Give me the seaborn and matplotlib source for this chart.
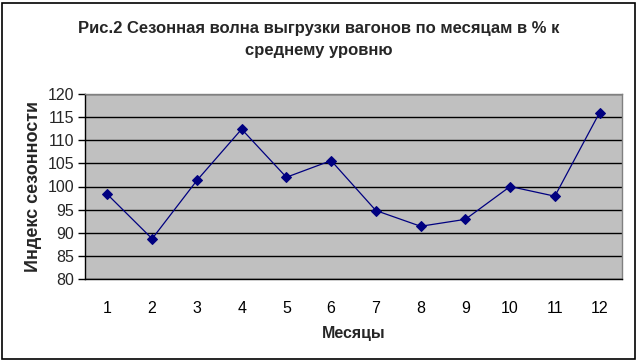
import matplotlib
matplotlib.use("Agg")
import matplotlib.pyplot as plt
import seaborn as sns
import pandas as pd
import numpy as np
from matplotlib.patches import Rectangle

months = [1, 2, 3, 4, 5, 6, 7, 8, 9, 10, 11, 12]
index_values = [98.3, 88.7, 101.3, 112.4, 102.0, 105.6, 94.8, 91.4, 92.9, 100.0, 97.9, 116.0]
title = "Рис.2 Сезонная волна выгрузки вагонов по месяцам в % к\nсреднему уровню"
xlabel = "Месяцы"
ylabel = "Индекс сезонности"

df = pd.DataFrame({"month": months, "value": index_values})

sns.set_theme(style="white")
plt.rcParams["font.family"] = ["Liberation Sans", "DejaVu Sans"]

fig = plt.figure(figsize=(6.38, 3.61), dpi=100)
ax = fig.add_axes([85/638, 1-279/361, (622-85)/638, (279-94)/361])
ax.set_facecolor("#C0C0C0")

sns.lineplot(data=df, x="month", y="value", ax=ax, color="#000080", linewidth=0.9,
             marker="D", markersize=5, markeredgecolor="#000080", markerfacecolor="#000080")

ax.set_xlim(0.5, 12.5)
ax.set_ylim(80, 120)
ax.set_yticks(np.arange(80, 121, 5))
ax.yaxis.grid(True, color="black", linewidth=1.0)
ax.set_axisbelow(True)
ax.set_xticks(months)
ax.set_xticklabels([str(m) for m in months])
ax.set_xticks(np.arange(0.5, 12.6, 1), minor=True)
ax.tick_params(axis="x", which="major", length=0, pad=16, labelsize=11.5, colors="black")
ax.tick_params(axis="x", which="minor", length=5, width=1, color="black", direction="out")
ax.tick_params(axis="y", which="major", length=5, width=1, color="black", direction="out", pad=3, labelsize=11.5, left=True)

for side in ["top", "right"]:
    ax.spines[side].set_color("#808080")
    ax.spines[side].set_linewidth(1)
for side in ["left", "bottom"]:
    ax.spines[side].set_color("black")
    ax.spines[side].set_linewidth(1)

ax.set_xlabel(xlabel, fontsize=11.5, fontweight="bold", labelpad=7)
ax.set_ylabel(ylabel, fontsize=13, fontweight="bold", labelpad=4)

fig.text(0.5, 1-39.5/361, title, ha="center", va="center", fontsize=12, fontweight="bold",
         linespacing=1.65)

fig.patches.append(Rectangle((2/638, 2/361), 633/638, 356/361, transform=fig.transFigure,
                             fill=False, edgecolor="black", linewidth=1.2))

fig.savefig("out.png", dpi=100)
